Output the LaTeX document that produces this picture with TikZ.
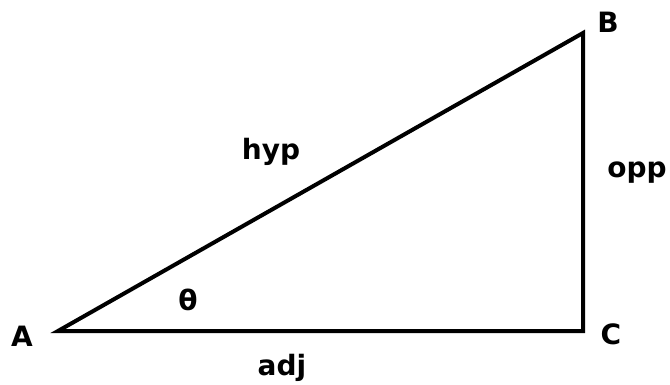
\documentclass[tikz,border=0pt]{standalone}
\usepackage{fontspec}
\setmainfont{DejaVu Sans}
\begin{document}
\begin{tikzpicture}[x=1pt,y=-1pt,
  lbl/.style={font=\bfseries\fontsize{28}{30}\selectfont, inner sep=0pt, anchor=base},
  side/.style={line width=4pt, line join=miter}]
\useasboundingbox (0,0) rectangle (670,385);
\coordinate (A) at (58,331);
\coordinate (B) at (583,33);
\coordinate (C) at (583,331);
\draw[side] (A) -- (B) -- (C) -- cycle;
\node[lbl] (lA) at (22,346) {A};
\node[lbl] (lB) at (608,33) {B};
\node[lbl] (lC) at (611,344) {C};
\node[lbl] (hyp) at (271,160) {hyp};
\node[lbl] (opp) at (637,178) {opp};
\node[lbl] (adj) at (282,375) {adj};
\node[lbl] (th) at (188,310) {θ};
\end{tikzpicture}
\end{document}
